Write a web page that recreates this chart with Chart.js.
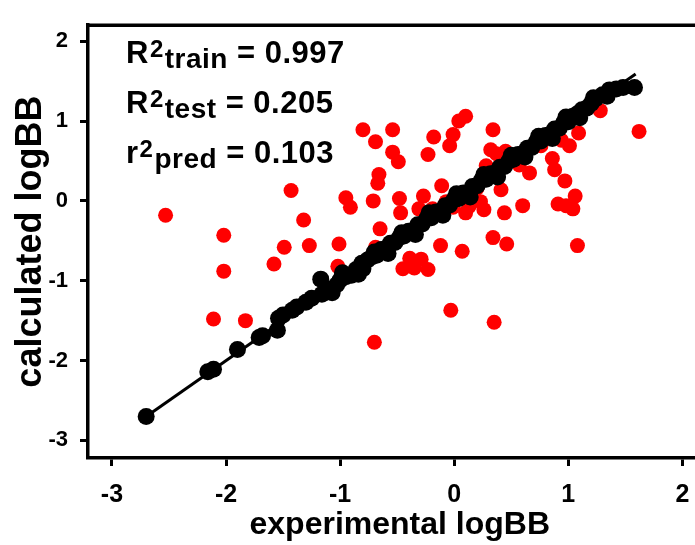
<!DOCTYPE html>
<html>
<head>
<meta charset="utf-8">
<script src="https://cdn.jsdelivr.net/npm/chart.js@4"></script>
<style>
  html, body { margin: 0; padding: 0; background: #fff; overflow: hidden; }
  #chart { display: block; }
</style>
</head>
<body>
<!-- the original figure is cropped on the right, so the canvas runs past the window -->
<canvas id="chart" width="720" height="545"></canvas>
<script>
// ── Data ──────────────────────────────────────────────────────
const xTicks = [-3, -2, -1, 0, 1, 2];
const yTicks = [-3, -2, -1, 0, 1, 2];

// training set (black)
const trainX = [-2.70, -2.16, -2.11, -1.90, -1.71, -1.68, -1.55, -1.54, -1.50, -1.42,
  -1.38, -1.30, -1.25, -1.17, -1.16, -1.12, -1.07, -1.03, -1.00, -0.95,
  -0.90, -0.86, -0.81, -0.80, -0.76, -0.72, -0.68, -0.64, -0.60, -0.56,
  -0.52, -0.48, -0.44, -0.40, -0.36, -0.32, -0.28, -0.24, -0.20, -0.16,
  -0.12, -0.08, -0.04, 0.00, 0.04, 0.08, 0.12, 0.16, 0.20, 0.24,
  0.28, 0.32, 0.36, 0.40, 0.44, 0.48, 0.52, 0.56, 0.60, 0.64,
  0.68, 0.72, 0.76, 0.80, 0.84, 0.88, 0.92, 0.96, 1.00, 1.04,
  1.08, 1.12, 1.16, 1.20, 1.24, 1.30, 1.36, 1.42, 1.48, 1.58,
  -0.98, -0.84, -0.70, -0.58, -0.46, -0.34, -0.22, -0.10, 0.02, 0.14,
  0.26, 0.38, 0.50, 0.62, 0.74, 0.86, 0.98, 1.10, 1.22, 1.34];
const trainY = [-2.70, -2.14, -2.11, -1.86, -1.71, -1.69, -1.62, -1.47, -1.43, -1.37,
  -1.33, -1.27, -1.22, -0.98, -1.17, -1.10, -1.15, -1.05, -0.99, -0.95,
  -0.93, -0.86, -0.78, -0.85, -0.74, -0.70, -0.68, -0.61, -0.60, -0.53,
  -0.52, -0.46, -0.44, -0.38, -0.37, -0.30, -0.29, -0.22, -0.21, -0.14,
  -0.13, -0.06, -0.05, 0.02, 0.03, 0.10, 0.10, 0.18, 0.19, 0.26,
  0.27, 0.34, 0.35, 0.42, 0.43, 0.50, 0.52, 0.58, 0.59, 0.66,
  0.67, 0.74, 0.75, 0.82, 0.83, 0.90, 0.91, 0.98, 0.99, 1.06,
  1.09, 1.14, 1.16, 1.22, 1.28, 1.33, 1.39, 1.40, 1.42, 1.42,
  -0.90, -0.92, -0.64, -0.66, -0.40, -0.42, -0.15, -0.18, 0.09, 0.05,
  0.33, 0.30, 0.57, 0.55, 0.81, 0.78, 1.05, 1.04, 1.29, 1.31];

// test set (red)
const testX = [-2.53, -2.02, -2.02, -2.11, -1.83, -1.43, -1.32, -1.49, -1.27, -1.58,
  -1.01, -1.02, -0.95, -0.91, -0.80, -0.69, -0.54, -0.54, -0.49, -0.66,
  -0.67, -0.71, -0.48, -0.47, -0.65, -0.69, -0.39, -0.29, -0.45, -0.35,
  -0.23, -0.70, -0.03, 0.35, -0.18, -0.23, -0.01, -0.04, 0.04, 0.10,
  0.34, 0.32, 0.45, 0.37, 0.56, 0.57, 0.66, 0.28, 0.76, 0.86,
  0.88, 0.94, 1.01, 1.09, 1.28, 1.62, 0.97, 1.06, 0.91, 0.98,
  1.04, 0.60, 0.44, 0.41, 0.20, 0.23, 0.26, 0.10, 0.13, -0.07,
  -0.01, -0.11, -0.27, -0.31, -0.19, 0.34, 0.46, -0.12, 0.07, 1.08];
const testY = [-0.18, -0.43, -0.88, -1.48, -1.50, 0.13, -0.24, -0.58, -0.56, -0.79,
  -0.54, -0.82, 0.04, -0.08, 0.89, 0.74, 0.89, 0.61, 0.49, 0.33,
  0.22, 0.00, 0.03, -0.15, -0.35, -0.58, -0.72, -0.73, -0.85, -0.84,
  -0.86, -1.77, -1.37, -1.52, 0.80, 0.58, 0.83, 0.69, 1.00, 1.06,
  0.89, 0.64, 0.62, 0.59, 0.58, 0.45, 0.35, 0.44, 0.69, 0.53,
  0.39, 0.76, 0.69, 0.85, 1.13, 0.87, 0.25, 0.06, -0.04, -0.06,
  -0.10, -0.06, -0.15, 0.14, 0.16, -0.01, -0.11, -0.15, -0.07, -0.01,
  -0.08, 0.19, 0.06, -0.10, -0.10, -0.46, -0.54, -0.56, -0.63, -0.56];

// fitted line
const lineX = [-2.70, 1.59];
const lineY = [-2.70, 1.59];

// statistics box
const stats = [
  { main: 'R', sub: 'train', value: ' = 0.997' },
  { main: 'R', sub: 'test', value: ' = 0.205' },
  { main: 'r', sub: 'pred', value: ' = 0.103' }
];

const toPoints = (xs, ys) => xs.map((x, i) => ({ x: x, y: ys[i] }));
const FONT = '"Liberation Sans", Arial, Helvetica, sans-serif';

// ── Plugins: top frame line + statistics text ─────────────────
const framePlugin = {
  id: 'frame',
  afterDraw(chart) {
    const { ctx, chartArea } = chart;
    ctx.save();
    ctx.strokeStyle = '#000';
    ctx.lineWidth = 3.5;
    ctx.beginPath();
    ctx.moveTo(chartArea.left - 1.5, chartArea.top);
    ctx.lineTo(chartArea.right + 10, chartArea.top);
    ctx.stroke();
    ctx.restore();
  }
};

const statsPlugin = {
  id: 'stats',
  afterDraw(chart) {
    const { ctx } = chart;
    ctx.save();
    ctx.fillStyle = '#000';
    ctx.textBaseline = 'alphabetic';
    ctx.textAlign = 'left';
    ctx.letterSpacing = '0.5px';
    stats.forEach((s, i) => {
      const base = 63 + i * 50;
      let x = 126;
      ctx.font = 'bold 31px ' + FONT;
      ctx.fillText(s.main, x, base);
      x += ctx.measureText(s.main).width + 1;
      ctx.font = 'bold 24px ' + FONT;
      ctx.fillText('2', x, base - 6);
      x += ctx.measureText('2').width + 1;
      ctx.font = 'bold 28px ' + FONT;
      ctx.fillText(s.sub, x, base + 5);
      x += ctx.measureText(s.sub).width;
      ctx.font = 'bold 31px ' + FONT;
      ctx.fillText(s.value, x, base);
    });
    ctx.restore();
  }
};

// ── Chart ─────────────────────────────────────────────────────
new Chart(document.getElementById('chart'), {
  type: 'scatter',
  data: {
    datasets: [
      {
        type: 'line',
        label: 'fit',
        data: toPoints(lineX, lineY),
        borderColor: '#000',
        borderWidth: 3,
        pointRadius: 0,
        fill: false
      },
      {
        label: 'train',
        data: toPoints(trainX, trainY),
        backgroundColor: '#000',
        borderWidth: 0,
        pointRadius: 8.5
      },
      {
        label: 'test',
        data: toPoints(testX, testY),
        backgroundColor: '#ff0000',
        borderWidth: 0,
        pointRadius: 7.5
      }
    ]
  },
  options: {
    responsive: false,
    animation: false,
    layout: { padding: { top: 16, right: 0, left: 0, bottom: 0 } },
    plugins: {
      legend: { display: false },
      tooltip: { enabled: false }
    },
    scales: {
      x: {
        type: 'linear',
        min: -3.21,
        max: 2.255,
        afterBuildTicks: (axis) => { axis.ticks = xTicks.map(v => ({ value: v })); },
        afterFit: (axis) => { axis.height = 87; axis.paddingLeft = 0; axis.paddingRight = 0; },
        border: { display: true, color: '#000', width: 3.5 },
        grid: { drawOnChartArea: false, drawTicks: true, tickLength: 8, tickWidth: 3, tickColor: '#000' },
        ticks: {
          color: '#000',
          padding: 14,
          maxRotation: 0,
          font: { family: FONT, size: 25, weight: 'bold' }
        },
        title: {
          display: true,
          text: 'experimental logBB',
          color: '#000',
          padding: { top: 0, bottom: 1 },
          font: { family: FONT, size: 32, weight: 'bold' }
        }
      },
      y: {
        type: 'linear',
        min: -3.22,
        max: 2.2,
        afterBuildTicks: (axis) => { axis.ticks = yTicks.map(v => ({ value: v })); },
        afterFit: (axis) => { axis.width = 88; },
        border: { display: true, color: '#000', width: 3.5 },
        grid: { drawOnChartArea: false, drawTicks: true, tickLength: 8, tickWidth: 3, tickColor: '#000' },
        ticks: {
          color: '#000',
          padding: 12,
          font: { family: FONT, size: 22, weight: 'bold' }
        },
        title: {
          display: true,
          text: 'calculated logBB',
          color: '#000',
          padding: { top: 9, bottom: 0 },
          font: { family: FONT, size: 36, weight: 'bold' }
        }
      }
    }
  },
  plugins: [framePlugin, statsPlugin]
});
</script>
</body>
</html>
